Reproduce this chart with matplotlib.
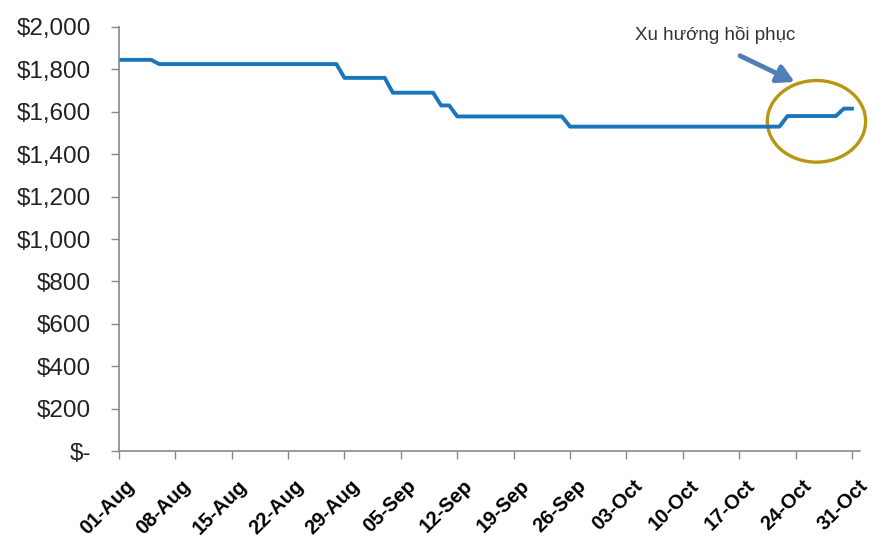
import numpy as np
import pandas as pd
import matplotlib
matplotlib.use('Agg')
import matplotlib.pyplot as plt
import matplotlib.dates as mdates
from matplotlib.patches import Ellipse
from matplotlib.transforms import ScaledTranslation

plt.rcParams['font.family'] = ['Liberation Sans', 'DejaVu Sans']

# gia theo ngay, ghi theo tung doan (gia, so ngay)
run_prices = [1845, 1825, 1760, 1690, 1630, 1578, 1530, 1580, 1615]
run_days = [5, 23, 6, 6, 2, 14, 27, 7, 2]
start_date = '2011-08-01'
tick_labels = ['01-Aug', '08-Aug', '15-Aug', '22-Aug', '29-Aug', '05-Sep', '12-Sep',
               '19-Sep', '26-Sep', '03-Oct', '10-Oct', '17-Oct', '24-Oct', '31-Oct']
y_ticks = [0, 200, 400, 600, 800, 1000, 1200, 1400, 1600, 1800, 2000]
note = 'Xu hướng hồi phục'

prices = np.repeat(run_prices, run_days)
dates = pd.date_range(start_date, periods=len(prices), freq='D')
tick_dates = pd.date_range(start_date, periods=len(tick_labels), freq='7D')

fig = plt.figure(figsize=(8.76, 5.43), dpi=100)
ax = fig.add_axes([0.1358, 0.1694, 0.8459, 0.7809])

ax.plot(dates, prices, color='#1b75bb', lw=2.8, solid_joinstyle='round')

ax.set_xlim(dates[0], dates[-1] + pd.Timedelta(days=1))
ax.set_ylim(0, 2000)
ax.set_yticks(y_ticks)
ax.set_yticklabels(['$-' if v == 0 else '${:,}'.format(v) for v in y_ticks])
ax.set_xticks(tick_dates)
ax.set_xticklabels(tick_labels)

for s in ['top', 'right']:
    ax.spines[s].set_visible(False)
for s in ['left', 'bottom']:
    ax.spines[s].set_color('#888888')
    ax.spines[s].set_linewidth(1.2)

ax.tick_params(axis='y', length=6, width=1.0, color='#888888', pad=14,
               labelsize=17.5, labelcolor='#222222')
ax.tick_params(axis='x', length=6, width=1.0, color='#888888', pad=12,
               labelsize=14.5, labelcolor='black')
off = ScaledTranslation(0.06, 0, fig.dpi_scale_trans)
for lab in ax.get_xticklabels():
    lab.set_rotation(45)
    lab.set_ha('right')
    lab.set_va('top')
    lab.set_rotation_mode('anchor')
    lab.set_fontweight('bold')
    lab.set_transform(lab.get_transform() + off)

# vong tron + mui ten chu thich
x0 = mdates.date2num(dates[0])
ell = Ellipse((x0 + 86.6, 1555), width=12.2, height=385, fill=False,
              edgecolor='#b8960f', lw=2.4, clip_on=False)
ax.add_patch(ell)
ax.annotate('', xy=(x0 + 84.2, 1735), xytext=(x0 + 76.8, 1870),
            arrowprops=dict(arrowstyle='-|>,head_length=1.0,head_width=0.55',
                            color='#4f7fb5', lw=3.5), annotation_clip=False)
ax.text(x0 + 74.0, 1962, note, ha='center', va='center', fontsize=13.5,
        color='#333333')

fig.savefig('out.png', dpi=100)
